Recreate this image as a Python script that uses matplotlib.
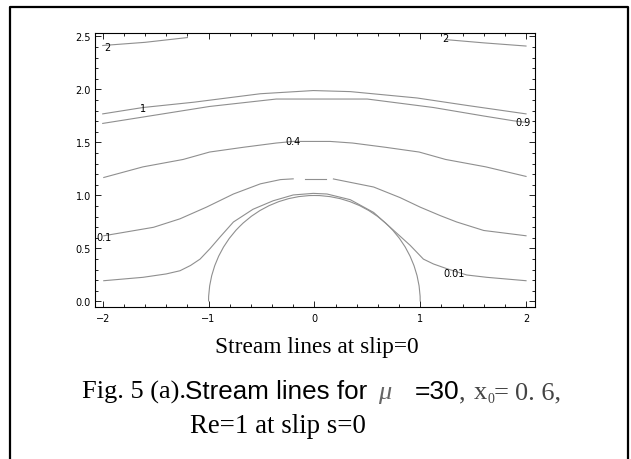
import matplotlib
matplotlib.use("Agg")
import matplotlib.pyplot as plt
from matplotlib.patches import Arc
from matplotlib.lines import Line2D
from matplotlib.ticker import MultipleLocator, FormatStrFormatter

# stream lines (x, y)
psi_001_x = [-1.99, -1.62, -1.40, -1.27, -1.17, -1.08, -0.985, -0.89, -0.765, -0.58, -0.39, -0.20, -0.01,
             0.12, 0.34, 0.56, 0.75, 0.905, 1.03, 1.125, 1.25, 1.44, 1.63, 2.0]
psi_001_y = [0.196, 0.228, 0.26, 0.29, 0.34, 0.40, 0.50, 0.61, 0.75, 0.87, 0.95, 1.005, 1.02,
             1.014, 0.96, 0.84, 0.67, 0.53, 0.40, 0.354, 0.31, 0.25, 0.228, 0.196]

psi_01_left_x = [-1.99, -1.52, -1.27, -1.02, -0.765, -0.51, -0.32, -0.20]
psi_01_left_y = [0.62, 0.70, 0.78, 0.89, 1.014, 1.11, 1.15, 1.157]
psi_01_mid_x = [-0.09, 0.11]
psi_01_mid_y = [1.157, 1.157]
psi_01_right_x = [0.18, 0.56, 0.81, 1.0, 1.19, 1.345, 1.60, 2.0]
psi_01_right_y = [1.156, 1.08, 0.98, 0.89, 0.81, 0.75, 0.67, 0.62]

psi_04_x = [-1.99, -1.62, -1.24, -0.99, -0.67, -0.36, -0.2, 0.15, 0.36, 0.67, 0.99, 1.24, 1.62, 2.0]
psi_04_y = [1.17, 1.27, 1.34, 1.41, 1.455, 1.495, 1.51, 1.51, 1.495, 1.455, 1.41, 1.34, 1.27, 1.18]

psi_09_x = [-2.0, -1.62, -0.99, -0.36, 0.12, 0.5, 1.125, 1.6, 1.88, 2.0]
psi_09_y = [1.68, 1.74, 1.84, 1.91, 1.91, 1.91, 1.83, 1.75, 1.705, 1.69]

psi_1_x = [-2.0, -1.62, -1.14, -0.51, -0.01, 0.34, 0.97, 1.44, 2.0]
psi_1_y = [1.77, 1.83, 1.88, 1.96, 1.99, 1.98, 1.92, 1.85, 1.77]

psi_2_left_x = [-2.0, -1.6, -1.2]
psi_2_left_y = [2.415, 2.445, 2.49]
psi_2_right_x = [1.25, 1.6, 2.0]
psi_2_right_y = [2.47, 2.44, 2.41]

# sphere surface
circle_center = (0.0, 0.0)
circle_radius = 1.0

# contour labels: text, x, y
labels = [("2", -1.96, 2.40), ("2", 1.24, 2.49), ("1", -1.62, 1.83), ("0.9", 1.97, 1.69),
          ("0.4", -0.2, 1.51), ("0.1", -1.99, 0.61), ("0.01", 1.32, 0.27)]

W, H = 631, 460
fig = plt.figure(figsize=(W / 100, H / 100), dpi=100)


def px(x, y):
    return x / W, 1 - y / H


ax = fig.add_axes([95 / W, 1 - 308 / H, (534.7 - 95) / W, (308 - 34) / H])

lc = "#8f8f8f"
lw = 0.8
for xs, ys in [(psi_001_x, psi_001_y), (psi_01_left_x, psi_01_left_y), (psi_01_mid_x, psi_01_mid_y),
               (psi_01_right_x, psi_01_right_y), (psi_04_x, psi_04_y), (psi_09_x, psi_09_y),
               (psi_1_x, psi_1_y), (psi_2_left_x, psi_2_left_y), (psi_2_right_x, psi_2_right_y)]:
    ax.plot(xs, ys, color=lc, lw=lw)

ax.add_patch(Arc(circle_center, 2 * circle_radius, 2 * circle_radius, theta1=0, theta2=180,
                 color=lc, lw=lw))

for t, x, y in labels:
    ax.text(x, y, t, fontsize=7, ha="center", va="center", color="black", family="DejaVu Sans")

ax.set_xlim(-2.073, 2.082)
ax.set_ylim(-0.052, 2.533)
ax.xaxis.set_major_locator(MultipleLocator(1))
ax.xaxis.set_minor_locator(MultipleLocator(0.2))
ax.yaxis.set_major_locator(MultipleLocator(0.5))
ax.yaxis.set_minor_locator(MultipleLocator(0.1))
ax.yaxis.set_major_formatter(FormatStrFormatter("%.1f"))
ax.tick_params(which="both", direction="in", top=True, right=True, width=0.6, labelsize=7)
ax.tick_params(which="major", length=4)
ax.tick_params(which="minor", length=2.2)
ax.tick_params(axis="x", pad=4)
ax.tick_params(axis="y", pad=3)
for s in ax.spines.values():
    s.set_linewidth(0.8)

serif = "Liberation Serif"
sans = "Liberation Sans"
fig.text(*px(215, 353), "Stream lines at slip=0", family=serif, fontsize=16.8, va="baseline")

fs = 19
grey = "#444444"
fig.text(*px(82, 399), "Fig. 5 (a).", family=serif, fontsize=fs, va="baseline")
fig.text(*px(185, 399), "Stream lines for", family=sans, fontsize=18.7, va="baseline")
fig.text(*px(378, 399), "μ", family=serif, style="italic", fontsize=fs, va="baseline", color="#666666")
fig.text(*px(415, 399), "=30", family=sans, fontsize=fs, va="baseline")
fig.text(*px(459, 399), ",", family=serif, fontsize=fs, va="baseline", color=grey)
fig.text(*px(474, 399), "x", family=serif, fontsize=fs, va="baseline", color=grey)
fig.text(*px(488, 403), "0", family=serif, fontsize=10, va="baseline", color=grey)
fig.text(*px(494, 399), "=", family=serif, fontsize=fs, va="baseline", color=grey)
fig.text(*px(515, 399), "0. 6,", family=serif, fontsize=fs, va="baseline", color=grey)
fig.text(*px(190, 433), "Re=1 at slip s=0", family=serif, fontsize=19.4, va="baseline")

# outer frame, open at the bottom
bx = [px(10, 470), px(10, 8), px(628, 8), px(628, 470)]
fig.add_artist(Line2D([p[0] for p in bx], [p[1] for p in bx], transform=fig.transFigure,
                      color="black", lw=1.6))

fig.savefig("out.png", dpi=100)
